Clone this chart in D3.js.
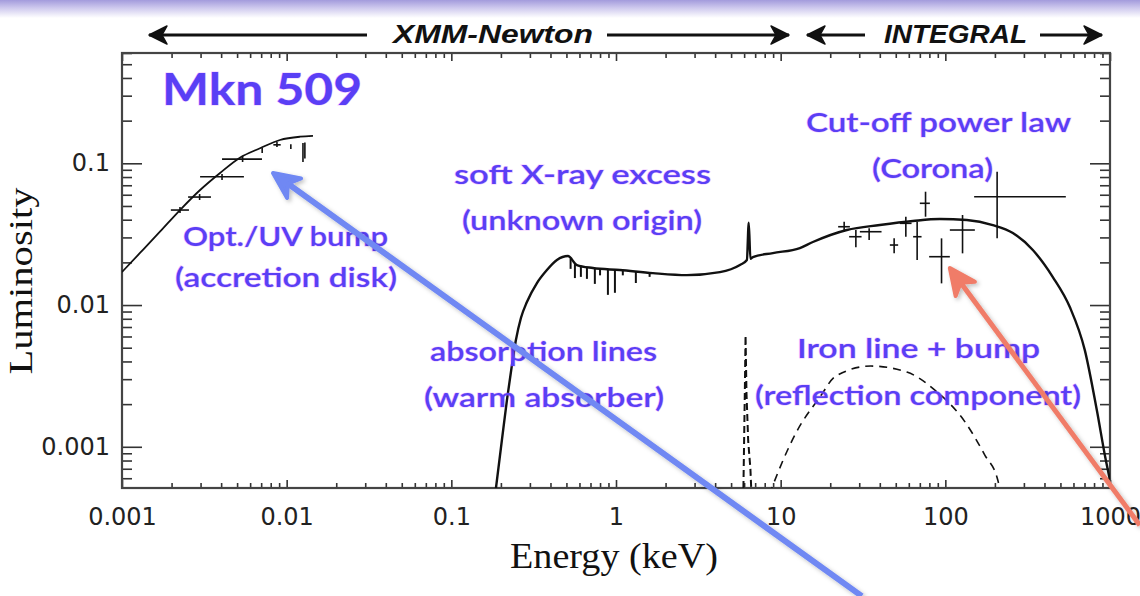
<!DOCTYPE html>
<html>
<head>
<meta charset="utf-8">
<script src="https://cdn.jsdelivr.net/npm/d3@7"></script>
<style>
  html, body { margin: 0; padding: 0; background: #fff; }
  svg { display: block; }
</style>
</head>
<body>
<div id="chart"></div>
<script>
// ---- data (energy in keV, luminosity arbitrary) ----
// accretion disk model (optical / UV bump)
const diskE = [0.001, 0.001286, 0.0017, 0.00225, 0.00298, 0.00394, 0.0052, 0.00689, 0.0091, 0.01205, 0.01445];
const diskL = [0.0171, 0.0233, 0.0329, 0.0468, 0.0648, 0.0855, 0.1096, 0.1277, 0.146, 0.154, 0.156];

// X-ray model / spectrum (XMM + INTEGRAL band)
const xrayE = [0.1866, 0.2028, 0.2176, 0.2333, 0.2467, 0.2646, 0.2877, 0.331, 0.3805, 0.4378, 0.5104, 0.5788,
               0.724, 1.056, 1.675, 2.695, 4.274, 5.654, 6.234, 6.40, 6.55, 6.78, 8.967, 13.08, 15.69, 25.23,
               40.03, 63.5, 92.6, 135.1, 194.2, 257.0, 339.9, 449.6, 570.1, 703.1, 831.6, 943, 1000];
const xrayL = [0.000511, 0.001114, 0.002136, 0.003772, 0.00566, 0.0081, 0.0105, 0.01429, 0.01766, 0.02078, 0.02217, 0.01916,
               0.01824, 0.01766, 0.01679, 0.01626, 0.01707, 0.01916, 0.02078, 0.0381, 0.0212, 0.0218, 0.02327, 0.02525, 0.02784, 0.03383,
               0.03668, 0.03915, 0.04045, 0.0398, 0.03668, 0.03224, 0.02444, 0.01576, 0.00968, 0.00481, 0.001816, 0.000806, 0.000582];

// warm absorber lines: energy and depth reached
const absE = [0.53, 0.563, 0.612, 0.666, 0.744, 0.80, 0.893, 0.985, 1.10, 1.32, 1.6];
const absL = [0.0180, 0.0155, 0.0158, 0.0153, 0.0141, 0.0162, 0.0118, 0.0122, 0.0162, 0.0143, 0.0158];

// iron line (dashed)
const feE = [5.9, 6.06, 6.12, 6.2, 6.35, 6.55, 6.75];
const feL = [0.0003, 0.0025, 0.0061, 0.0024, 0.0011, 0.0007, 0.0003];

// reflection bump (dashed)
const reflE = [7.48, 8.84, 12.37, 17.30, 21.64, 35.30, 58.38, 86.36, 133.2, 173.7, 208.4, 230];
const reflL = [0.0003, 0.000512, 0.00125, 0.002244, 0.003155, 0.003711, 0.003366, 0.002512, 0.001469, 0.000874, 0.00058, 0.0003];

// optical / UV photometry
const optE   = [0.00225, 0.00296, 0.00405, 0.0054, 0.0071, 0.00873, 0.0106, 0.01256, 0.0129];
const optElo = [0.00198, 0.00252, 0.00298, 0.00405, 0.0071, 0.0083, 0.0106, 0.01256, 0.0129];
const optEhi = [0.00255, 0.00347, 0.0055, 0.00708, 0.0071, 0.0092, 0.0106, 0.01256, 0.0129];
const optL   = [0.0468, 0.0578, 0.0804, 0.107, 0.123, 0.135, 0.131, 0.12, 0.122];
const optLlo = [0.0446, 0.0551, 0.0762, 0.1021, 0.118, 0.1303, 0.126, 0.1021, 0.108];
const optLhi = [0.0492, 0.0607, 0.0840, 0.1126, 0.128, 0.1414, 0.136, 0.1391, 0.140];

// INTEGRAL points
const intE   = [24.30, 28.62, 34.46, 48.88, 57.56, 67.42, 75.82, 94.82, 127.2, 206.3];
const intElo = [22.34, 26.05, 30.26, 46.03, 52.92, 63.75, 70.0, 79.74, 106.5, 149.6];
const intEhi = [26.32, 30.99, 40.98, 51.69, 62.35, 71.70, 80.54, 106.5, 151.1, 539.1];
const intL   = [0.03569, 0.03034, 0.03291, 0.02651, 0.03772, 0.03034, 0.05222, 0.02193, 0.03383, 0.05811];
const intLlo = [0.03291, 0.02554, 0.02874, 0.02316, 0.03034, 0.02078, 0.04198, 0.01422, 0.02316, 0.02955];
const intLhi = [0.03872, 0.03383, 0.03477, 0.02955, 0.04198, 0.03872, 0.06303, 0.02955, 0.04316, 0.0872];

const xMajor = [0.001, 0.01, 0.1, 1, 10, 100, 1000];
const yMajor = [0.001, 0.01, 0.1];

// ---- layout ----
const width = 1140, height = 596;
const margin = {top: 53, right: 30, bottom: 108, left: 122};

const x = d3.scaleLog().domain([0.001, 1000]).range([margin.left, width - margin.right]);
const y = d3.scaleLog().domain([0.000512, 0.6]).range([height - margin.bottom, margin.top]);

const noteColor = "#5a3ff5";
const noteFont = "'Comic Sans MS', Lato, 'Noto Sans', sans-serif";

const svg = d3.select("#chart").append("svg")
    .attr("width", width)
    .attr("height", height)
    .style("font-family", "'DejaVu Sans', sans-serif");

const defs = svg.append("defs");
const grad = defs.append("linearGradient").attr("id", "band").attr("x1", 0).attr("y1", 0).attr("x2", 0).attr("y2", 1);
grad.append("stop").attr("offset", "0%").attr("stop-color", "#a39bdc");
grad.append("stop").attr("offset", "45%").attr("stop-color", "#cfcaee");
grad.append("stop").attr("offset", "100%").attr("stop-color", "#ffffff");
defs.append("clipPath").attr("id", "plotclip")
  .append("rect")
    .attr("x", x.range()[0]).attr("y", y.range()[1])
    .attr("width", x.range()[1] - x.range()[0])
    .attr("height", y.range()[0] - y.range()[1]);
const shadow = defs.append("filter").attr("id", "shadow").attr("x", "-20%").attr("y", "-20%").attr("width", "140%").attr("height", "140%");
shadow.append("feDropShadow").attr("dx", 2).attr("dy", 2).attr("stdDeviation", 2)
    .attr("flood-color", "#000").attr("flood-opacity", 0.25);

// slide background band at the very top
svg.append("rect").attr("x", 0).attr("y", 0).attr("width", width).attr("height", 18).attr("fill", "url(#band)");

// ---- axes ----
const isMajor = v => Math.abs(Math.log10(v) - Math.round(Math.log10(v))) < 1e-9;
const xMinor = x.ticks().filter(v => !isMajor(v));
const yMinor = y.ticks().filter(v => !isMajor(v));
const fmt = d3.format("~g");

function styleAxis(g) {
  g.select(".domain").remove();
  g.selectAll(".tick line").attr("stroke", "#333").attr("stroke-width", 1.6);
  g.selectAll(".tick text").attr("fill", "#222").style("font-size", "24px").style("font-family", "'DejaVu Sans', sans-serif");
}

const x0 = x.range()[0], x1 = x.range()[1], y0 = y.range()[0], y1 = y.range()[1];

svg.append("g").attr("transform", `translate(0,${y0})`)
  .call(d3.axisBottom(x).tickValues(xMajor).tickSizeInner(-8).tickSizeOuter(0).tickPadding(20).tickFormat(fmt))
  .call(styleAxis);
svg.append("g").attr("transform", `translate(0,${y0})`)
  .call(d3.axisBottom(x).tickValues(xMinor).tickSizeInner(-5).tickSizeOuter(0).tickFormat(""))
  .call(styleAxis);
svg.append("g").attr("transform", `translate(0,${y1})`)
  .call(d3.axisTop(x).tickValues(xMajor).tickSizeInner(-8).tickSizeOuter(0).tickFormat(""))
  .call(styleAxis);
svg.append("g").attr("transform", `translate(0,${y1})`)
  .call(d3.axisTop(x).tickValues(xMinor).tickSizeInner(-5).tickSizeOuter(0).tickFormat(""))
  .call(styleAxis);

svg.append("g").attr("transform", `translate(${x0},0)`)
  .call(d3.axisLeft(y).tickValues(yMajor).tickSizeInner(-20).tickSizeOuter(0).tickPadding(12).tickFormat(fmt))
  .call(styleAxis);
svg.append("g").attr("transform", `translate(${x0},0)`)
  .call(d3.axisLeft(y).tickValues(yMinor).tickSizeInner(-10).tickSizeOuter(0).tickFormat(""))
  .call(styleAxis);
svg.append("g").attr("transform", `translate(${x1},0)`)
  .call(d3.axisRight(y).tickValues(yMajor).tickSizeInner(-20).tickSizeOuter(0).tickFormat(""))
  .call(styleAxis);
svg.append("g").attr("transform", `translate(${x1},0)`)
  .call(d3.axisRight(y).tickValues(yMinor).tickSizeInner(-10).tickSizeOuter(0).tickFormat(""))
  .call(styleAxis);

svg.append("rect")
    .attr("x", x0).attr("y", y1).attr("width", x1 - x0).attr("height", y0 - y1)
    .attr("fill", "none").attr("stroke", "#444").attr("stroke-width", 2.2);

// axis titles
svg.append("text")
    .attr("transform", `translate(32,281) rotate(-90)`)
    .attr("text-anchor", "middle")
    .attr("textLength", 187).attr("lengthAdjust", "spacingAndGlyphs")
    .style("font-family", "'Liberation Serif', serif").style("font-size", "34px").attr("fill", "#111")
    .text("Luminosity");
svg.append("text")
    .attr("x", 614).attr("y", 568)
    .attr("text-anchor", "middle")
    .attr("textLength", 208).attr("lengthAdjust", "spacingAndGlyphs")
    .style("font-family", "'Liberation Serif', serif").style("font-size", "35px").attr("fill", "#111")
    .text("Energy (keV)");

// ---- data marks ----
const plot = svg.append("g").attr("clip-path", "url(#plotclip)");

const line = d3.line().x(d => x(d[0])).y(d => y(d[1])).curve(d3.curveMonotoneX);
const linePlain = d3.line().x(d => x(d[0])).y(d => y(d[1]));

plot.append("path")
    .attr("d", line(d3.zip(diskE, diskL)))
    .attr("fill", "none").attr("stroke", "#111").attr("stroke-width", 1.8);

plot.append("path")
    .attr("d", line(d3.zip(xrayE, xrayL)))
    .attr("fill", "none").attr("stroke", "#111").attr("stroke-width", 2.4).attr("stroke-linejoin", "round");

// continuum level at a given energy (log-log interpolation on the spectrum)
function continuum(e) {
  const i = Math.max(0, Math.min(xrayE.length - 2, d3.bisectRight(xrayE, e) - 1));
  const t = (Math.log(e) - Math.log(xrayE[i])) / (Math.log(xrayE[i + 1]) - Math.log(xrayE[i]));
  return Math.exp(Math.log(xrayL[i]) + t * (Math.log(xrayL[i + 1]) - Math.log(xrayL[i])));
}
plot.append("g").selectAll("line")
  .data(d3.zip(absE, absL))
  .join("line")
    .attr("x1", d => x(d[0])).attr("x2", d => x(d[0]))
    .attr("y1", d => y(continuum(d[0]))).attr("y2", d => y(d[1]))
    .attr("stroke", "#111").attr("stroke-width", 2);

plot.append("path")
    .attr("d", linePlain(d3.zip(feE, feL)))
    .attr("fill", "none").attr("stroke", "#111").attr("stroke-width", 2).attr("stroke-dasharray", "7,4");
plot.append("path")
    .attr("d", line(d3.zip(reflE, reflL)))
    .attr("fill", "none").attr("stroke", "#111").attr("stroke-width", 1.6).attr("stroke-dasharray", "8,6");

function errorBars(E, Elo, Ehi, L, Llo, Lhi) {
  const g = plot.append("g").attr("stroke", "#111").attr("stroke-width", 1.6);
  const rows = E.map((e, i) => ({e, elo: Elo[i], ehi: Ehi[i], l: L[i], llo: Llo[i], lhi: Lhi[i]}));
  g.selectAll(".h").data(rows.filter(d => d.ehi > d.elo)).join("line")
      .attr("x1", d => x(d.elo)).attr("x2", d => x(d.ehi))
      .attr("y1", d => y(d.l)).attr("y2", d => y(d.l));
  g.selectAll(".v").data(rows).join("line")
      .attr("x1", d => x(d.e)).attr("x2", d => x(d.e))
      .attr("y1", d => y(d.llo)).attr("y2", d => y(d.lhi));
}
errorBars(optE, optElo, optEhi, optL, optLlo, optLhi);
errorBars(intE, intElo, intEhi, intL, intLlo, intLhi);

// ---- instrument bands on top ----
function bandArrow(xa, xb, yy, headLeft, headRight) {
  svg.append("line").attr("x1", xa).attr("x2", xb).attr("y1", yy).attr("y2", yy)
      .attr("stroke", "#111").attr("stroke-width", 3);
  const head = (tx, dir) => {
    const p = [[tx, yy], [tx + dir * 18, yy - 9], [tx + dir * 13, yy], [tx + dir * 18, yy + 9]];
    svg.append("path").attr("d", "M" + p.join("L") + "Z").attr("fill", "#111").attr("stroke", "#111")
        .attr("stroke-width", 1.5).attr("stroke-linejoin", "round");
  };
  if (headLeft) head(xa, 1);
  if (headRight) head(xb, -1);
}
bandArrow(149, 367, 35, true, false);
bandArrow(607, 789, 35, false, true);
bandArrow(807, 865, 35, true, false);
bandArrow(1040, 1102, 35, false, true);

svg.append("text").attr("x", 393).attr("y", 43)
    .attr("textLength", 200).attr("lengthAdjust", "spacingAndGlyphs")
    .style("font-family", "'Liberation Sans', Arial, sans-serif").style("font-size", "25px")
    .style("font-weight", "bold").style("font-style", "italic").attr("fill", "#111")
    .text("XMM-Newton");
svg.append("text").attr("x", 884).attr("y", 43)
    .attr("textLength", 143).attr("lengthAdjust", "spacingAndGlyphs")
    .style("font-family", "'Liberation Sans', Arial, sans-serif").style("font-size", "25px")
    .style("font-weight", "bold").style("font-style", "italic").attr("fill", "#111")
    .text("INTEGRAL");

// ---- annotations ----
function note(txt, x0, baseline, len, size, weight) {
  svg.append("text")
      .attr("x", x0).attr("y", baseline)
      .attr("textLength", len).attr("lengthAdjust", "spacingAndGlyphs")
      .style("font-family", noteFont).style("font-size", (size || 26) + "px")
      .style("font-weight", weight || 600)
      .attr("fill", noteColor)
      .attr("stroke", "rgba(210,90,255,0.35)").attr("stroke-width", 1.2).style("paint-order", "stroke")
      .text(txt);
}
note("Mkn 509", 162, 105, 200, 44, 700);
note("Opt./UV bump", 183, 246, 205);
note("(accretion disk)", 175, 287, 222);
note("soft X-ray excess", 454, 184, 257);
note("(unknown origin)", 462, 230, 240);
note("Cut-off power law", 806, 132, 265);
note("(Corona)", 872, 178, 121);
note("absorption lines", 430, 361, 227);
note("(warm absorber)", 424, 407, 240);
note("Iron line + bump", 797, 358, 243);
note("(reflection component)", 755, 405, 326);

// ---- pointer arrows (tips anchored to the data they point at) ----
function pointer(tipE, tipL, tailE, tailL, color, w) {
  const tx = x(tipE), ty = y(tipL), ex = x(tailE), ey = y(tailL);
  const dx = ex - tx, dy = ey - ty, n = Math.hypot(dx, dy);
  const ux = dx / n, uy = dy / n, px = -uy, py = ux;
  const g = svg.append("g").attr("filter", "url(#shadow)");
  g.append("line").attr("x1", tx + ux * 14).attr("y1", ty + uy * 14).attr("x2", ex).attr("y2", ey)
      .attr("stroke", color).attr("stroke-width", w);
  const len = 26, hw = 12;
  const pts = [[tx, ty],
               [tx + ux * len + px * hw, ty + uy * len + py * hw],
               [tx + ux * len * 0.7, ty + uy * len * 0.7],
               [tx + ux * len - px * hw, ty + uy * len - py * hw]];
  g.append("path").attr("d", "M" + pts.join("L") + "Z")
      .attr("fill", color).attr("stroke", color).attr("stroke-width", 4).attr("stroke-linejoin", "round");
}
pointer(0.00826, 0.0854, 31.1, 0.0000884, "#6f88f3", 6);
pointer(106.5, 0.01824, 1517, 0.00028, "#f07c68", 5);
</script>
</body>
</html>
